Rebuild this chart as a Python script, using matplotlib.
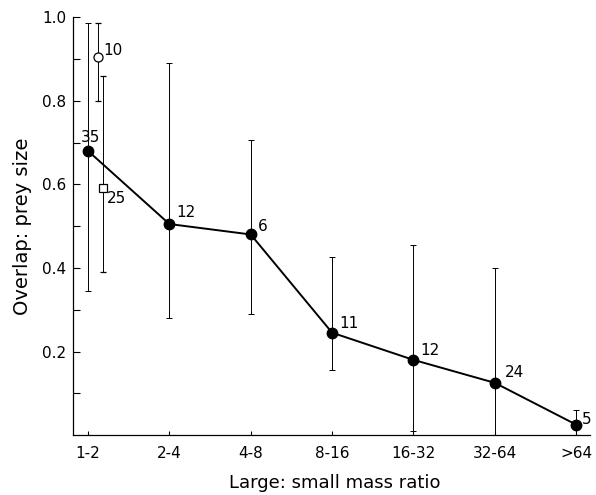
#Overlap in prey size vs large:small mass ratio
import numpy as np
import matplotlib.pyplot as plt

Categories=['1-2','2-4','4-8','8-16','16-32','32-64','>64']
Overlap=[0.68,0.505,0.48,0.245,0.18,0.125,0.025]
ErrTop=[0.985,0.89,0.705,0.425,0.455,0.40,0.06]
ErrBottom=[0.345,0.28,0.29,0.155,0.01,0.0,0.0]
Counts=['35','12','6','11','12','24','5']

#Extra points in the first class
CircleValue=0.905
CircleErr=[0.80,0.985]
CircleCount='10'
SquareValue=0.59
SquareErr=[0.39,0.86]
SquareCount='25'

x=np.arange(len(Categories))
Overlap=np.array(Overlap)
yerr=[Overlap-np.array(ErrBottom),np.array(ErrTop)-Overlap]

fig=plt.figure(figsize=(5.96,4.95),dpi=100)
ax=fig.add_axes([0.1225,0.121,0.8675,0.8444])

ax.errorbar(x,Overlap,yerr=yerr,fmt='none',ecolor='k',elinewidth=0.7,capsize=2.5,capthick=0.7)
ax.plot(x,Overlap,color='k',linewidth=1.4,marker='o',markersize=7.5,markerfacecolor='k',zorder=3)

xc=x[0]+0.12
ax.errorbar([xc],[CircleValue],yerr=[[CircleValue-CircleErr[0]],[CircleErr[1]-CircleValue]],fmt='o',color='k',
            markerfacecolor='white',markersize=6.5,elinewidth=0.7,capsize=2.5,capthick=0.7,markeredgewidth=0.9)
xs=x[0]+0.185
ax.errorbar([xs],[SquareValue],yerr=[[SquareValue-SquareErr[0]],[SquareErr[1]-SquareValue]],fmt='s',color='k',
            markerfacecolor='white',markersize=6,elinewidth=0.7,capsize=2.5,capthick=0.7,markeredgewidth=0.9)

#count labels
offsets=[(2,4),(5,3),(5,0),(5,1),(5,1),(7,2),(4,-2)]
for i in range(len(x)):
    ax.annotate(Counts[i],(x[i],Overlap[i]),xytext=offsets[i],textcoords='offset points',fontsize=11,ha='center' if i==0 else 'left',va='bottom')
ax.annotate(CircleCount,(xc,CircleValue),xytext=(4,-1),textcoords='offset points',fontsize=11,ha='left',va='bottom')
ax.annotate(SquareCount,(xs,SquareValue),xytext=(3,-2),textcoords='offset points',fontsize=11,ha='left',va='top')

ax.set_xlim(-0.184,6.17)
ax.set_ylim(0,1.0)
ax.set_xticks(x)
ax.set_xticklabels(Categories)
ax.set_yticks([0.2,0.4,0.6,0.8,1.0])
ax.set_yticklabels(['0.2','0.4','0.6','0.8','1.0'])
ax.set_yticks([0.1,0.3,0.5,0.7,0.9],minor=True)
ax.tick_params(axis='both',which='both',direction='in',length=5,width=0.8,labelsize=11)
ax.tick_params(axis='y',which='major',pad=5)
ax.tick_params(axis='x',length=3,pad=8)
ax.spines['top'].set_visible(False)
ax.spines['right'].set_visible(False)
ax.spines['left'].set_linewidth(0.9)
ax.spines['bottom'].set_linewidth(0.9)

ax.set_xlabel("Large: small mass ratio",fontsize=13,va='center')
ax.set_ylabel("Overlap: prey size",fontsize=14,va='center')
ax.xaxis.set_label_coords(0.507,-0.115)
ax.yaxis.set_label_coords(-0.097,0.5)

plt.savefig('out.png',dpi=100)
plt.close()
